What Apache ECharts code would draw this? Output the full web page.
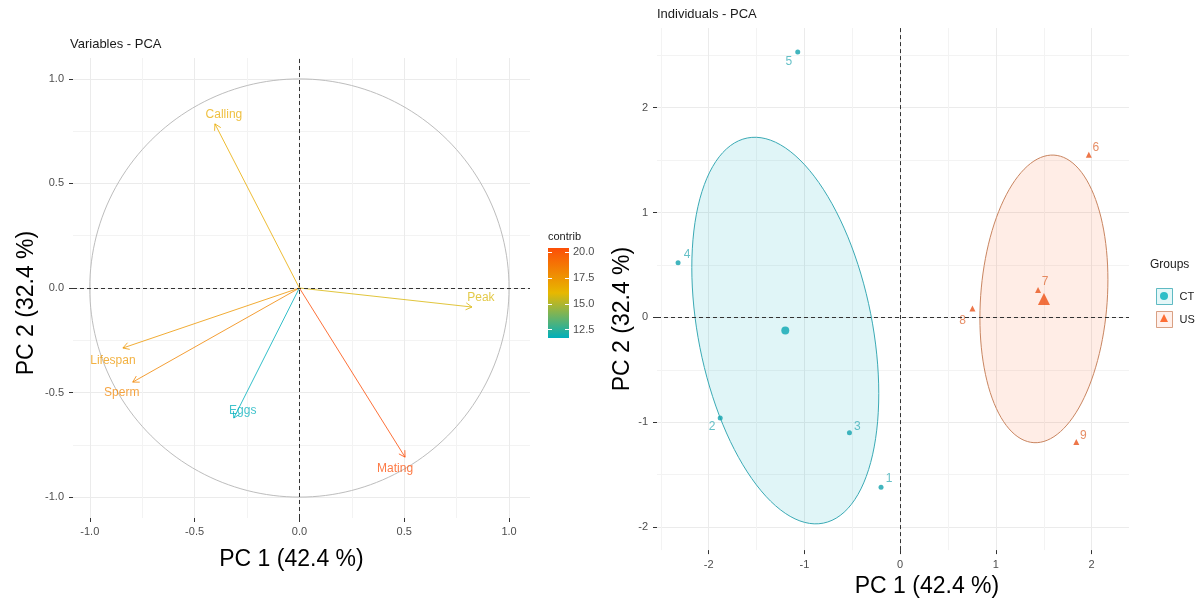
<!DOCTYPE html>
<html><head><meta charset="utf-8">
<script src="https://cdn.jsdelivr.net/npm/echarts@6/dist/echarts.min.js"></script>
<style>html,body{margin:0;padding:0;background:#fff}#c{width:1199px;height:603px}</style>
</head><body><div id="c"></div>
<script>
// ---------------- data ----------------
const varNames   = ['Calling', 'Peak', 'Lifespan', 'Sperm', 'Eggs', 'Mating'];
const varPC1     = [-0.403, 0.823, -0.842, -0.795, -0.313, 0.504];
const varPC2     = [0.785, -0.091, -0.287, -0.450, -0.622, -0.809];
const varContrib = [16.6, 15.8, 17.4, 18.1, 11.7, 20.4];

const ctIds = ['1', '2', '3', '4', '5'];
const ctPC1 = [-0.20, -1.88, -0.53, -2.32, -1.07];
const ctPC2 = [-1.62, -0.96, -1.10, 0.52, 2.53];
const usIds = ['6', '7', '8', '9'];
const usPC1 = [1.97, 1.44, 0.755, 1.84];
const usPC2 = [1.55, 0.26, 0.085, -1.19];

const varTicks     = [-1, -0.5, 0, 0.5, 1];
const varMinor     = [-0.75, -0.25, 0.25, 0.75];
const indTicks     = [-2, -1, 0, 1, 2];
const indMinorX    = [-2.5, -1.5, -0.5, 0.5, 1.5];
const indMinorY    = [-1.5, -0.5, 0.5, 1.5, 2.5];
const contribTicks = [12.5, 15, 17.5, 20];

// ---------------- layout / style ----------------
const FONT = 'Liberation Sans, Arial, Helvetica, sans-serif';
const contribPalette = ['#00AFBB', '#E7B800', '#FC4E07'];
const CT_COL = '#00AFBB', US_COL = '#FC4E07';
const varLabelOffset = {Calling:[9,-9], Peak:[9,-9], Lifespan:[-10,13], Sperm:[-11,11], Eggs:[9,-7], Mating:[-10,12]};
const indLabelOffset = {'1':[8,-9],'2':[-8,9],'3':[8,-6],'4':[9,-8],'5':[-9,10],'6':[7,-7],'7':[7,-8],'8':[-10,12],'9':[7,-6]};

const mean = a => a.reduce((s, v) => s + v, 0) / a.length;
const cbMin = Math.min(...varContrib), cbMax = Math.max(...varContrib);

function confEllipse(xs, ys, npt) {
  const n = xs.length, mx = mean(xs), my = mean(ys);
  let sxx = 0, syy = 0, sxy = 0;
  for (let i = 0; i < n; i++) {
    sxx += (xs[i] - mx) ** 2; syy += (ys[i] - my) ** 2; sxy += (xs[i] - mx) * (ys[i] - my);
  }
  const a = sxx / (n - 1) / n, d = syy / (n - 1) / n, b = sxy / (n - 1) / n;
  const l11 = Math.sqrt(a), l21 = b / l11, l22 = Math.sqrt(d - l21 * l21);
  const r = Math.sqrt(5.991464547); // sqrt(qchisq(0.95, 2))
  const pts = [];
  for (let k = 0; k <= npt; k++) {
    const t = 2 * Math.PI * k / npt, u = Math.cos(t), v = Math.sin(t);
    pts.push([mx + r * l11 * u, my + r * (l21 * u + l22 * v)]);
  }
  return pts;
}

const tickLabel = {color: '#4D4D4D', fontSize: 11, fontFamily: FONT};
const tickStyle = {show: true, length: 4, lineStyle: {color: '#333333', width: 1}};
const majorSplit = {show: true, lineStyle: {color: '#EBEBEB', width: 1}};
const minorSplit = {show: true, lineStyle: {color: '#F3F3F3', width: 1}};
const nameStyle = {fontSize: 23, color: '#000', fontFamily: FONT};

function mainAxis(grid, min, max, ticks, fmt, extra) {
  return Object.assign({
    type: 'value', gridIndex: grid, min: min, max: max,
    axisLine: {show: false, onZero: false},
    axisTick: Object.assign({customValues: ticks}, tickStyle),
    axisLabel: Object.assign({customValues: ticks, formatter: fmt}, tickLabel),
    splitLine: majorSplit
  }, extra);
}
function minorAxis(grid, min, max, ticks) {
  return {
    type: 'value', gridIndex: grid, min: min, max: max,
    axisLine: {show: false, onZero: false},
    axisTick: {show: false, customValues: ticks},
    axisLabel: {show: false, customValues: ticks},
    splitLine: minorSplit
  };
}
const f1 = v => v.toFixed(1), f0 = v => String(Math.round(v));
const dashed = {type: [4, 3], color: '#333333', width: 1};

const option = {
  animation: false,
  backgroundColor: '#fff',
  textStyle: {fontFamily: FONT},
  title: [
    {text: 'Variables - PCA', left: 70, top: 38, padding: 0, textStyle: {fontSize: 13, fontWeight: 'normal', color: '#1A1A1A', fontFamily: FONT}},
    {text: 'Individuals - PCA', left: 657, top: 8, padding: 0, textStyle: {fontSize: 13, fontWeight: 'normal', color: '#1A1A1A', fontFamily: FONT}},
    {text: 'contrib', left: 548, top: 231, padding: 0, textStyle: {fontSize: 11, fontWeight: 'normal', color: '#1A1A1A', fontFamily: FONT}},
    {text: 'Groups', left: 1150, top: 259, padding: 0, textStyle: {fontSize: 12, fontWeight: 'normal', color: '#1A1A1A', fontFamily: FONT}}
  ],
  grid: [
    {left: 73, top: 58, width: 457, height: 460},
    {left: 657, top: 28, width: 472, height: 523},
    {left: 548, top: 248, width: 21, height: 90}
  ],
  xAxis: [
    mainAxis(0, -1.08, 1.1, varTicks, f1, {axisLabel: Object.assign({customValues: varTicks, formatter: f1, margin: 8}, tickLabel),
      name: 'PC 1 (42.4 %)', nameLocation: 'middle', nameGap: 30, nameTextStyle: Object.assign({padding: [0, 20, 0, 0]}, nameStyle)}),
    minorAxis(0, -1.08, 1.1, varMinor),
    mainAxis(1, -2.54, 2.39, indTicks, f0, {axisLabel: Object.assign({customValues: indTicks, formatter: f0, margin: 9}, tickLabel),
      name: 'PC 1 (42.4 %)', nameLocation: 'middle', nameGap: 21, nameTextStyle: Object.assign({padding: [0, 0, 0, 68]}, nameStyle)}),
    minorAxis(1, -2.54, 2.39, indMinorX),
    {type: 'value', gridIndex: 2, min: 0, max: 1, show: false}
  ],
  yAxis: [
    mainAxis(0, -1.1, 1.1, varTicks, f1, {axisLabel: Object.assign({customValues: varTicks, formatter: f1, margin: 9}, tickLabel),
      name: 'PC 2 (32.4 %)', nameLocation: 'middle', nameGap: 35, nameTextStyle: Object.assign({padding: [0, 30, 0, 0]}, nameStyle)}),
    minorAxis(0, -1.1, 1.1, varMinor),
    mainAxis(1, -2.22, 2.76, indTicks, f0, {axisLabel: Object.assign({customValues: indTicks, formatter: f0, margin: 9}, tickLabel),
      name: 'PC 2 (32.4 %)', nameLocation: 'middle', nameGap: 19, nameTextStyle: Object.assign({padding: [0, 60, 0, 0]}, nameStyle)}),
    minorAxis(1, -2.22, 2.76, indMinorY),
    {type: 'value', gridIndex: 2, min: cbMin, max: cbMax, position: 'right', z: 10,
      axisLine: {show: false, onZero: false}, splitLine: {show: false},
      axisTick: {show: true, inside: true, length: 4, customValues: contribTicks, lineStyle: {color: '#fff', width: 1}},
      axisLabel: Object.assign({customValues: contribTicks, formatter: f1, margin: 4}, tickLabel)},
    {type: 'value', gridIndex: 2, min: cbMin, max: cbMax, position: 'left', z: 10,
      axisLine: {show: false, onZero: false}, splitLine: {show: false},
      axisTick: {show: true, inside: true, length: 4, customValues: contribTicks, lineStyle: {color: '#fff', width: 1}},
      axisLabel: {show: false}}
  ],
  visualMap: [{
    show: false, type: 'continuous', seriesIndex: 1, dimension: 2,
    min: cbMin, max: cbMax, inRange: {color: contribPalette}
  }],
  legend: [
    {orient: 'vertical', left: 1151, top: 283, itemWidth: 16, itemHeight: 16, itemGap: 6, selectedMode: false,
      textStyle: {fontSize: 11, color: '#1A1A1A', fontFamily: FONT, padding: [0, 0, 0, 2]},
      data: [
        {name: 'CT', icon: 'rect', itemStyle: {color: 'rgba(0,175,187,0.13)', borderColor: '#3AAAB5', borderWidth: 1}},
        {name: 'US', icon: 'rect', itemStyle: {color: 'rgba(252,78,7,0.1)', borderColor: '#D08A66', borderWidth: 1}}
      ]},
    {orient: 'vertical', left: 1155, top: 287, itemWidth: 8, itemHeight: 8, itemGap: 14, selectedMode: false,
      formatter: () => '', textStyle: {fontSize: 8, lineHeight: 8},
      data: [
        {name: 'CT', icon: 'circle', itemStyle: {color: CT_COL}},
        {name: 'US', icon: 'triangle', itemStyle: {color: US_COL}}
      ]}
  ],
  series: [
    // 0: correlation circle + zero lines (left)
    {type: 'custom', xAxisIndex: 0, yAxisIndex: 0, data: [[0, 0]], silent: true, z: 1,
      renderItem: function (params, api) {
        const pts = [];
        for (let k = 0; k <= 200; k++) {
          const t = 2 * Math.PI * k / 200;
          pts.push(api.coord([Math.cos(t), Math.sin(t)]));
        }
        return {type: 'polyline', shape: {points: pts}, style: {stroke: '#BDBDBD', lineWidth: 1, fill: null}};
      },
      markLine: {silent: true, symbol: ['none', 'none'], label: {show: false}, lineStyle: dashed,
        data: [{xAxis: 0}, {yAxis: 0}]}
    },
    // 1: variable arrows
    {type: 'custom', xAxisIndex: 0, yAxisIndex: 0, z: 3,
      data: varNames.map((n, i) => [varPC1[i], varPC2[i], varContrib[i]]),
      encode: {x: 0, y: 1},
      renderItem: function (params, api) {
        const o = api.coord([0, 0]), t = api.coord([api.value(0), api.value(1)]);
        const color = api.visual('color');
        const ang = Math.atan2(t[1] - o[1], t[0] - o[0]);
        const L = 7, a = Math.PI / 6;
        const p1 = [t[0] - L * Math.cos(ang - a), t[1] - L * Math.sin(ang - a)];
        const p2 = [t[0] - L * Math.cos(ang + a), t[1] - L * Math.sin(ang + a)];
        const name = varNames[params.dataIndex];
        const off = varLabelOffset[name];
        return {type: 'group', children: [
          {type: 'line', shape: {x1: o[0], y1: o[1], x2: t[0], y2: t[1]}, style: {stroke: color, lineWidth: 1, opacity: 0.8}},
          {type: 'polyline', shape: {points: [p1, t, p2]}, style: {stroke: color, lineWidth: 1, fill: null, opacity: 0.8}},
          {type: 'text', x: t[0] + off[0], y: t[1] + off[1],
            style: {text: name, fill: color, fontSize: 12, fontFamily: FONT, align: 'center', verticalAlign: 'middle', opacity: 0.75}}
        ]};
      }
    },
    // 2: CT ellipse
    {type: 'custom', xAxisIndex: 2, yAxisIndex: 2, data: [[mean(ctPC1), mean(ctPC2)]], silent: true, z: 1,
      renderItem: function (params, api) {
        const pts = confEllipse(ctPC1, ctPC2, 120).map(p => api.coord(p));
        return {type: 'polygon', shape: {points: pts}, style: {fill: 'rgba(0,175,187,0.12)', stroke: '#3AAAB5', lineWidth: 1}};
      }
    },
    // 3: US ellipse
    {type: 'custom', xAxisIndex: 2, yAxisIndex: 2, data: [[mean(usPC1), mean(usPC2)]], silent: true, z: 1,
      renderItem: function (params, api) {
        const pts = confEllipse(usPC1, usPC2, 120).map(p => api.coord(p));
        return {type: 'polygon', shape: {points: pts}, style: {fill: 'rgba(252,78,7,0.1)', stroke: '#C98560', lineWidth: 1}};
      },
      markLine: {silent: true, symbol: ['none', 'none'], label: {show: false}, lineStyle: dashed,
        data: [{xAxis: 0}, {yAxis: 0}]}
    },
    // 4: CT individuals
    {name: 'CT', type: 'scatter', xAxisIndex: 2, yAxisIndex: 2, symbol: 'circle', symbolSize: 5, z: 4,
      itemStyle: {color: '#13A3AE'},
      label: {show: true, position: 'inside', formatter: p => p.name, color: '#3FB0B9', fontSize: 12, fontFamily: FONT},
      data: ctIds.map((id, i) => ({name: id, value: [ctPC1[i], ctPC2[i]], label: {offset: indLabelOffset[id]}}))
    },
    // 5: US individuals
    {name: 'US', type: 'scatter', xAxisIndex: 2, yAxisIndex: 2, symbol: 'triangle', symbolSize: 6, z: 4,
      itemStyle: {color: '#E9541C'},
      label: {show: true, position: 'inside', formatter: p => p.name, color: '#E0703F', fontSize: 12, fontFamily: FONT},
      data: usIds.map((id, i) => ({name: id, value: [usPC1[i], usPC2[i]], label: {offset: indLabelOffset[id]}}))
    },
    // 6: group means
    {type: 'scatter', xAxisIndex: 2, yAxisIndex: 2, z: 5, silent: true,
      data: [
        {value: [mean(ctPC1), mean(ctPC2)], symbol: 'circle', symbolSize: 8, itemStyle: {color: '#0AA6B1'}},
        {value: [mean(usPC1), mean(usPC2)], symbol: 'triangle', symbolSize: 12, itemStyle: {color: '#EE5014'}}
      ]
    },
    // 7: colour bar
    {type: 'custom', xAxisIndex: 4, yAxisIndex: 4, data: [[0, cbMin]], silent: true, z: 2,
      renderItem: function (params, api) {
        const p0 = api.coord([0, cbMax]), p1 = api.coord([1, cbMin]);
        return {type: 'rect', shape: {x: p0[0], y: p0[1], width: p1[0] - p0[0], height: p1[1] - p0[1]},
          style: {fill: {type: 'linear', x: 0, y: 0, x2: 0, y2: 1, colorStops: [
            {offset: 0, color: contribPalette[2]}, {offset: 0.5, color: contribPalette[1]}, {offset: 1, color: contribPalette[0]}]}}};
      }
    }
  ]
};

const chart = echarts.init(document.getElementById('c'), null, {renderer: 'canvas'});
chart.setOption(option);
</script>
</body></html>
